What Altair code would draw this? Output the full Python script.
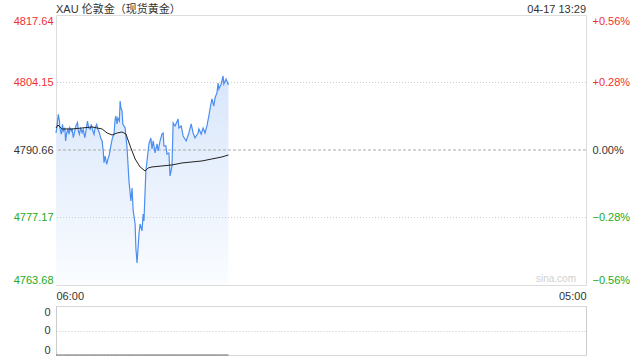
import altair as alt
import pandas as pd

# ---- data ----
minutes = [0, 2, 6, 9, 10, 14, 17, 19, 23, 25, 28, 31, 34, 36, 40, 42, 45, 49, 52, 56,
           58, 61, 64, 68, 71, 75, 78, 82, 85, 89, 92, 96, 99, 102, 106, 109, 113, 116,
           120, 123, 125, 128, 132, 135, 139, 142, 147, 151, 154, 156, 159, 161, 165, 167,
           169, 172, 174, 180, 185, 187, 190, 195, 198, 201, 206, 208, 211, 214, 216, 219,
           224, 227, 229, 234, 237, 242, 247, 250, 253, 258, 263, 266, 271, 276, 279, 281,
           286, 289, 294, 297, 302, 305, 310, 318, 320, 326, 331, 339, 346, 352, 357, 362,
           370, 372, 378, 383, 388, 393, 398, 401, 406, 411, 414, 419, 422, 424, 430, 435,
           437, 443, 448, 449]
prices = [4794.06, 4795.12, 4797.80, 4796.46, 4795.12, 4793.80, 4795.80, 4794.46, 4795.12,
          4792.47, 4794.12, 4794.80, 4793.80, 4795.12, 4794.46, 4794.99, 4793.13, 4794.46,
          4795.46, 4796.13, 4794.46, 4793.80, 4795.12, 4794.12, 4794.80, 4793.13, 4794.46,
          4796.46, 4795.12, 4794.80, 4795.80, 4794.46, 4793.80, 4795.12, 4795.80, 4794.80,
          4794.12, 4793.13, 4792.47, 4790.47, 4788.13, 4789.46, 4787.80, 4788.80, 4789.80,
          4791.13, 4793.13, 4793.80, 4796.86, 4797.46, 4795.86, 4797.06, 4796.46, 4800.46,
          4799.12, 4798.46, 4795.86, 4795.06, 4791.07, 4788.47, 4784.47, 4780.48, 4783.07,
          4778.48, 4775.88, 4771.09, 4768.09, 4771.49, 4773.88, 4775.88, 4774.48, 4777.88,
          4776.48, 4786.47, 4788.47, 4791.87, 4793.06, 4790.87, 4792.47, 4790.07, 4791.87,
          4790.47, 4792.47, 4793.86, 4794.06, 4791.47, 4791.47, 4789.87, 4790.07, 4785.47,
          4787.47, 4796.06, 4795.46, 4796.86, 4795.06, 4795.46, 4793.46, 4792.47, 4794.06,
          4795.86, 4794.06, 4793.06, 4794.06, 4794.86, 4793.86, 4795.06, 4794.06, 4795.46,
          4797.46, 4798.86, 4800.86, 4799.46, 4801.06, 4802.06, 4804.05, 4802.85, 4803.85,
          4805.45, 4803.85, 4804.85, 4803.85, 4804.05]

avg_minutes = [0, 5, 16, 42, 68, 94, 120, 133, 146, 159, 172, 182, 193, 206, 219, 232,
               240, 250, 276, 302, 328, 354, 380, 406, 432, 449]
avg_prices = [4795.06, 4795.66, 4794.86, 4794.86, 4795.06, 4795.26, 4794.86, 4794.06,
              4793.66, 4794.06, 4794.26, 4793.86, 4791.47, 4788.87, 4787.27, 4786.47,
              4787.07, 4787.27, 4787.47, 4787.67, 4788.07, 4788.27, 4788.47, 4788.87,
              4789.27, 4789.67]

volumes = [0] * len(minutes)

base_price = 4790.66
price_ticks = [4763.68, 4777.17, 4790.66, 4804.15, 4817.64]
grid_prices = [4777.17, 4804.15]
x_domain = [0, 1380]
x_tick_labels = ["06:00", "05:00"]
vol_ticks = [0, 0.5, 1]
vol_label = "0"

title_text = "XAU 伦敦金（现货黄金）"
time_text = "04-17 13:29"
watermark = "sina.com"

RED = "#f03030"
GREEN = "#22aa22"
DARK = "#333333"
FONT = "Liberation Sans, Arial, Noto Sans CJK SC, sans-serif"

df = pd.DataFrame({"t": minutes, "price": prices, "vol": volumes})
avg_df = pd.DataFrame({"t": avg_minutes, "avg": avg_prices})
grid_df = pd.DataFrame({"g": grid_prices})
base_df = pd.DataFrame({"g": [base_price]})

xscale = alt.Scale(domain=x_domain, nice=False, zero=False)
yscale = alt.Scale(domain=[price_ticks[0], price_ticks[-1]], nice=False, zero=False)

color_cond = {
    "condition": [
        {"test": f"datum.value > {base_price + 0.001}", "value": RED},
        {"test": f"datum.value < {base_price - 0.001}", "value": GREEN},
    ],
    "value": DARK,
}

x_axis = alt.Axis(
    values=x_domain,
    labelExpr=f"datum.value == {x_domain[0]} ? '{x_tick_labels[0]}' : '{x_tick_labels[1]}'",
    labelFlush=True, ticks=False, domain=False, grid=False, labelPadding=5,
    labelColor=DARK, labelFontSize=11, labelFont=FONT, title=None,
)

left_axis = alt.Axis(
    orient="left", values=price_ticks, format=".2f", labelFlush=True,
    ticks=False, domain=False, grid=False, labelPadding=3, labelFontSize=11,
    labelFont=FONT, labelColor=color_cond, title=None,
)

pct_expr = (
    f"(datum.value > {base_price + 0.001} ? '+' : '') + "
    f"format((datum.value - {base_price}) / {base_price} * 100, '.2f') + '%'"
)
right_axis = alt.Axis(
    orient="right", values=price_ticks, labelExpr=pct_expr, labelFlush=True,
    ticks=False, domain=False, grid=False, labelPadding=6, labelFontSize=11,
    labelFont=FONT, labelColor=color_cond, title=None,
)

base = alt.Chart(df)

area = base.mark_area(
    color=alt.Gradient(
        gradient="linear",
        stops=[alt.GradientStop(color="#d8e6fb", offset=0),
               alt.GradientStop(color="#fafcff", offset=1)],
        x1=1, x2=1, y1=0, y2=1,
    ),
    clip=True,
).encode(
    x=alt.X("t:Q", scale=xscale, axis=x_axis),
    y=alt.Y("price:Q", scale=yscale, axis=left_axis),
    y2=alt.datum(price_ticks[0]),
)

grid = alt.Chart(grid_df).mark_rule(color="#cccccc", strokeDash=[1, 2], strokeWidth=1).encode(
    y=alt.Y("g:Q", scale=yscale, axis=None)
)
base_rule = alt.Chart(base_df).mark_rule(color="#aaaaaa", strokeDash=[3, 2], strokeWidth=1).encode(
    y=alt.Y("g:Q", scale=yscale, axis=None)
)

line = base.mark_line(color="#4b8ef0", strokeWidth=1.2).encode(
    x=alt.X("t:Q", scale=xscale, axis=None),
    y=alt.Y("price:Q", scale=yscale, axis=None),
)

avg = alt.Chart(avg_df).mark_line(color="#222222", strokeWidth=1).encode(
    x=alt.X("t:Q", scale=xscale, axis=None),
    y=alt.Y("avg:Q", scale=yscale, axis=right_axis),
)

title_mark = alt.Chart(pd.DataFrame({"t": [x_domain[0]], "label": [title_text]})).mark_text(
    align="left", baseline="alphabetic", fontSize=11, font=FONT, color=DARK
).encode(x=alt.X("t:Q", scale=xscale, axis=None), y=alt.value(-2.5), text="label:N")
time_mark = alt.Chart(pd.DataFrame({"t": [x_domain[1]], "label": [time_text]})).mark_text(
    align="right", baseline="alphabetic", fontSize=11, font=FONT, color=DARK
).encode(x=alt.X("t:Q", scale=xscale, axis=None), y=alt.value(-2.5), text="label:N")
wm = alt.Chart(pd.DataFrame({"t": [x_domain[1]], "p": [price_ticks[0]], "label": [watermark]})).mark_text(
    align="right", baseline="alphabetic", fontSize=10, font=FONT, color="#d0d0d0", dx=-10, dy=-3
).encode(x=alt.X("t:Q", scale=xscale, axis=None), y=alt.Y("p:Q", scale=yscale, axis=None),
         text="label:N")

top = alt.layer(area, grid, base_rule, line, avg, title_mark, time_mark, wm).resolve_axis(
    y="independent", x="independent"
).properties(width=530, height=270)

# volume panel
vscale = alt.Scale(domain=[vol_ticks[0], vol_ticks[-1]], nice=False, zero=False)
vol_left = alt.Axis(
    orient="left", values=vol_ticks, labelExpr=f"'{vol_label}'", labelFlush=True,
    ticks=False, domain=True, domainColor="#cccccc", grid=True, gridColor="#cccccc",
    gridDash=[1, 2], labelPadding=6, labelFontSize=11, labelFont=FONT, labelColor=DARK,
    title=None,
)
vol_right = alt.Axis(
    orient="right", values=vol_ticks, labels=False, ticks=False, domain=True,
    domainColor="#cccccc", grid=False, title=None,
)
vol_line = alt.Chart(df).mark_line(color="#666666", strokeWidth=1).encode(
    x=alt.X("t:Q", scale=xscale, axis=None),
    y=alt.Y("vol:Q", scale=vscale, axis=vol_left),
)
vol_right_layer = alt.Chart(df).mark_line(opacity=0).encode(
    x=alt.X("t:Q", scale=xscale, axis=None),
    y=alt.Y("vol:Q", scale=vscale, axis=vol_right),
)
bottom = alt.layer(vol_line, vol_right_layer).resolve_axis(y="independent").properties(
    width=530, height=49
)

chart = alt.vconcat(top, bottom, spacing=21, bounds="flush").properties(
    padding={"left": 12, "top": 3, "right": 5, "bottom": 2},
    background="white",
).configure_view(stroke="#cccccc").configure(font=FONT)

chart.save("out.html", embed_options={"renderer": "svg", "actions": False})
